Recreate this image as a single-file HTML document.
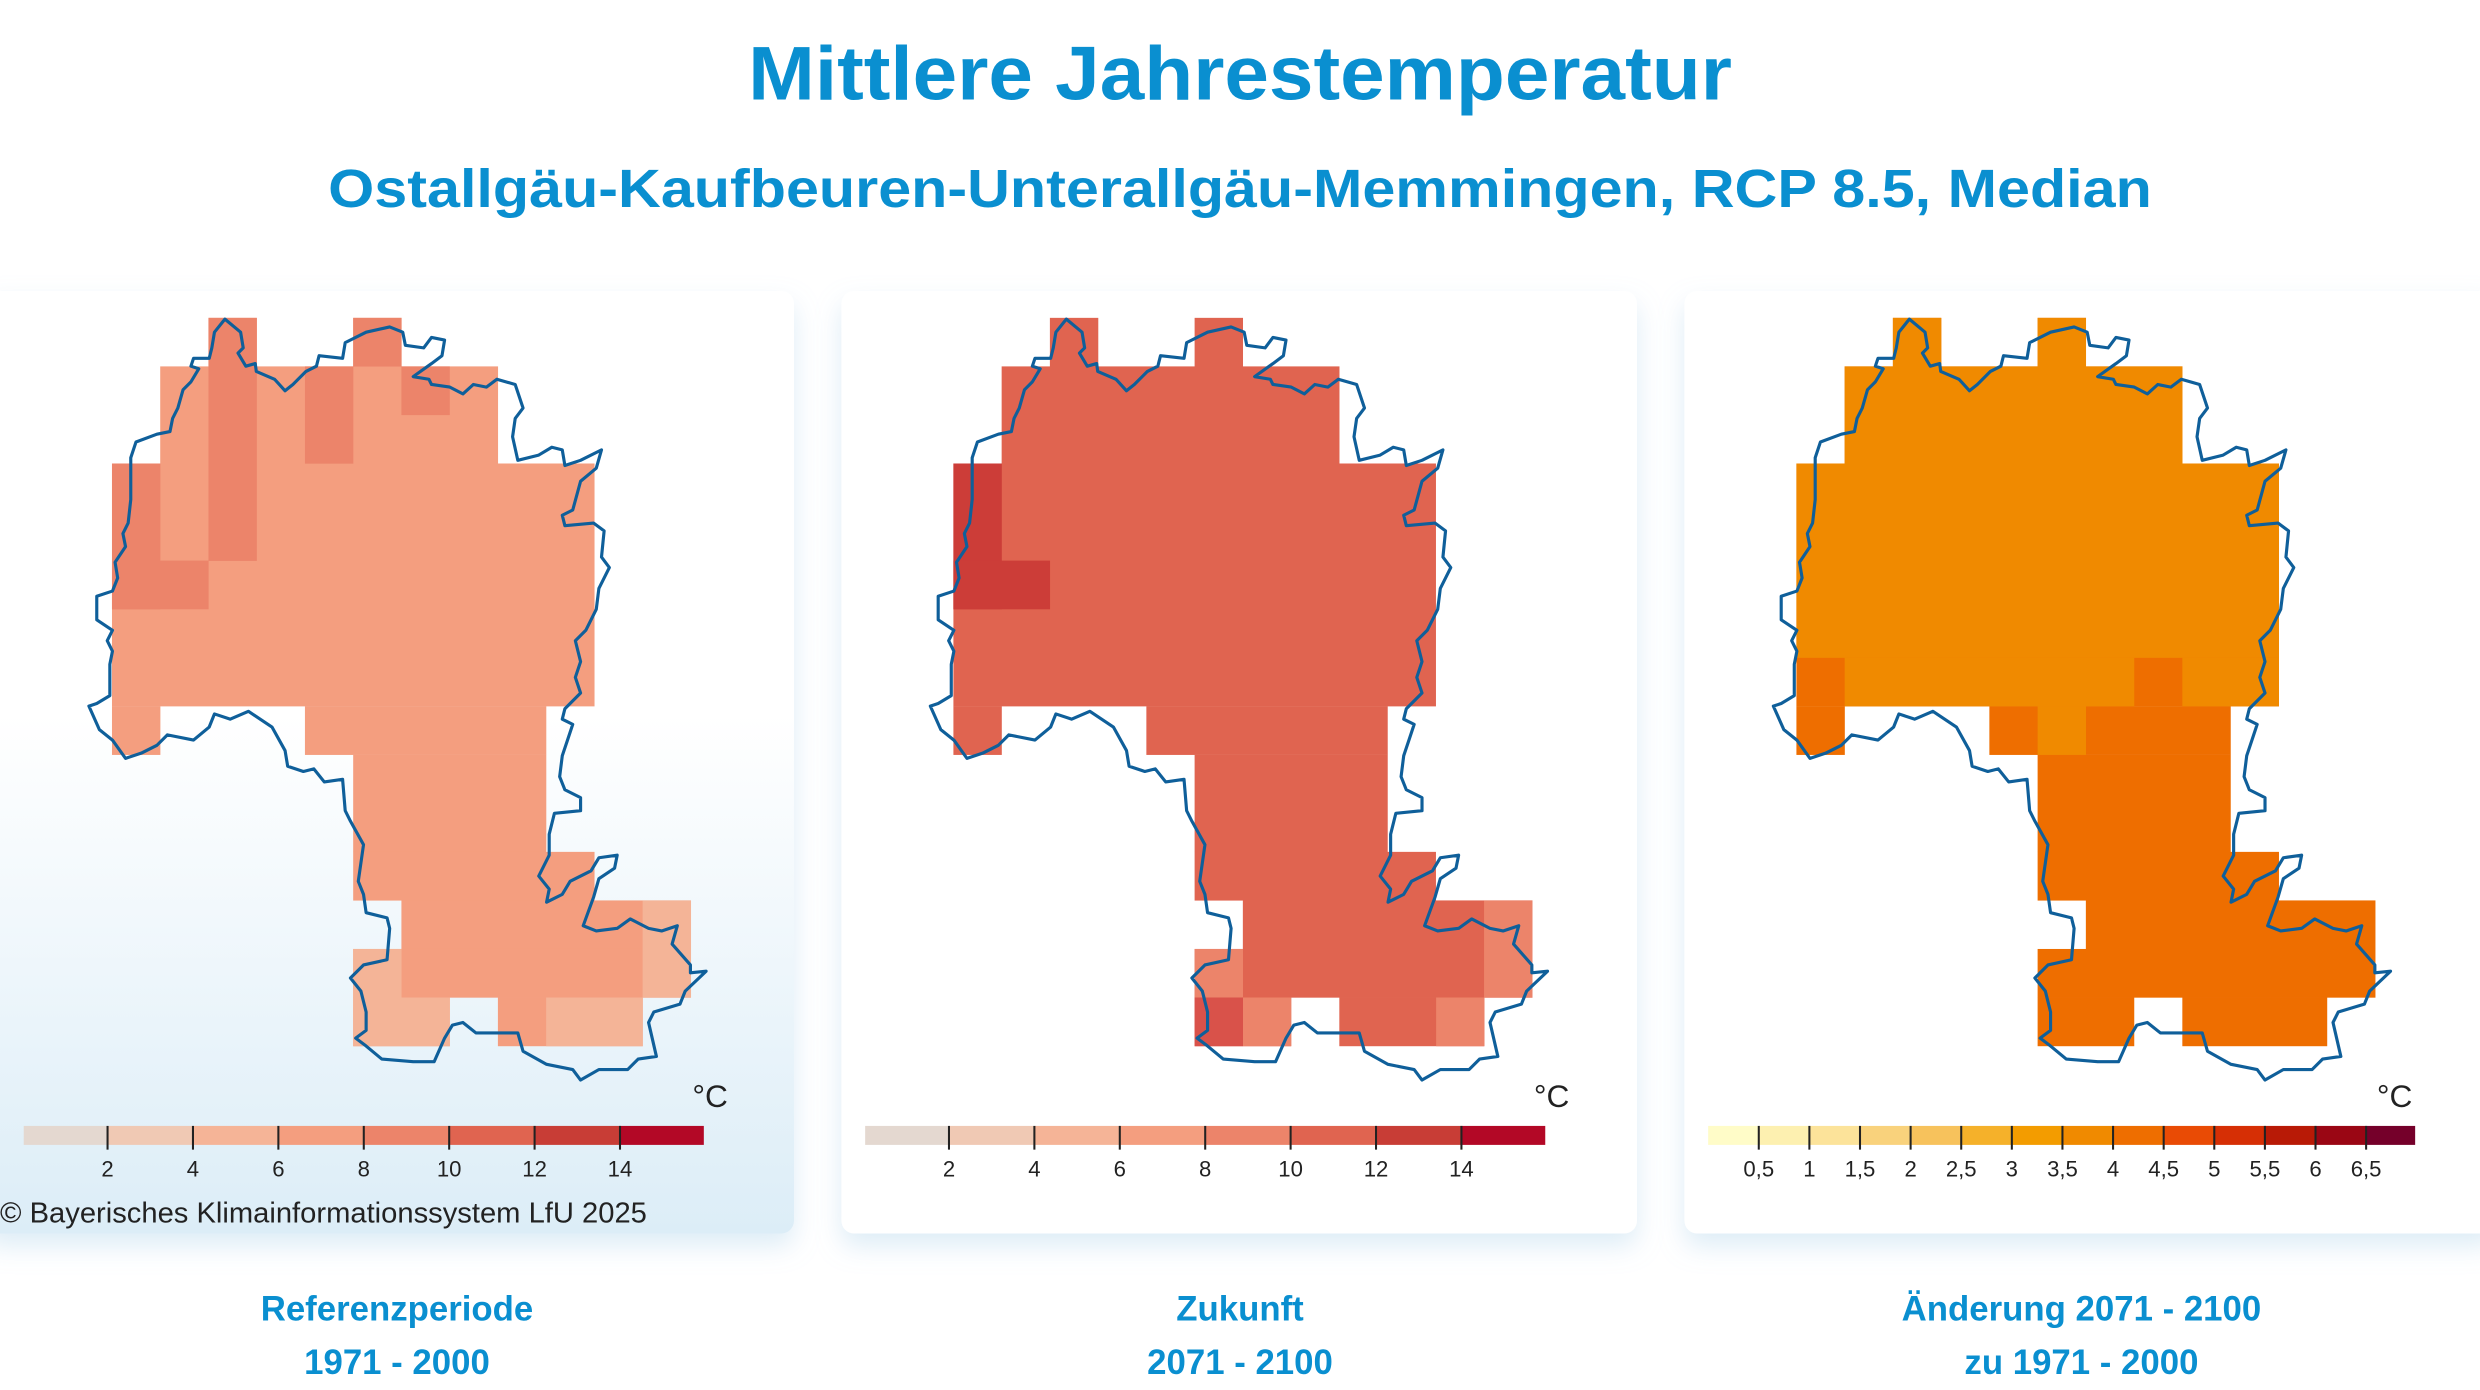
<!DOCTYPE html>
<html><head><meta charset="utf-8"><style>
html,body{margin:0;padding:0;background:#fff;}
svg{display:block;}
</style></head><body>
<svg width="2480" height="1390" viewBox="0 0 1568 879" preserveAspectRatio="none" xmlns="http://www.w3.org/2000/svg">
<defs>
<linearGradient id="bg1" x1="0" y1="0" x2="0" y2="1">
<stop offset="0" stop-color="#ffffff"/><stop offset="0.45" stop-color="#ffffff"/><stop offset="1" stop-color="#dcedf7"/>
</linearGradient>
<filter id="sh" x="-10%" y="-10%" width="120%" height="125%">
<feDropShadow dx="0" dy="8" stdDeviation="8" flood-color="#9fcbe6" flood-opacity="0.35"/>
</filter>
<path id="ol" fill="none" stroke="#0f5f9a" stroke-width="6" stroke-linejoin="round" d="M430,75 L460,100 465,130 455,140 470,165 488,160 490,175 525,190 545,212 560,200 585,175 605,165 610,145 655,150 660,120 700,100 745,90 770,100 775,125 810,130 825,110 850,115 845,145 825,160 790,185 820,190 825,200 860,205 885,218 905,200 930,205 950,190 985,200 1000,245 985,265 980,300 990,345 1030,335 1055,320 1075,325 1080,355 1110,345 1150,325 1140,360 1110,385 1095,440 1075,450 1080,470 1135,465 1155,480 1150,530 1165,550 1145,590 1140,630 1120,670 1100,690 1110,730 1100,760 1110,790 1080,820 1075,840 1095,850 1085,880 1075,910 1070,950 1080,975 1110,990 1110,1015 1060,1020 1050,1060 1050,1100 1030,1140 1050,1165 1045,1190 1075,1175 1090,1150 1130,1130 1145,1105 1180,1100 1175,1125 1145,1145 1135,1180 1115,1235 1140,1245 1180,1240 1205,1222 1240,1240 1265,1245 1295,1235 1285,1270 1320,1310 1320,1325 1350,1322 1310,1360 1300,1385 1250,1400 1240,1420 1255,1485 1220,1490 1200,1510 1145,1510 1110,1530 1095,1510 1045,1500 1000,1475 990,1440 910,1440 885,1420 865,1425 850,1450 830,1495 790,1495 730,1490 700,1465 680,1450 700,1435 700,1400 690,1360 670,1335 695,1310 740,1300 745,1240 740,1220 700,1210 695,1175 685,1150 695,1080 670,1035 660,1015 655,955 620,960 600,935 580,940 550,930 545,900 520,855 490,835 475,825 440,840 410,830 400,855 370,880 320,870 300,890 270,905 240,915 215,880 190,860 170,815 185,810 210,795 210,735 215,710 205,690 215,670 185,650 185,605 215,595 225,570 220,540 240,510 235,485 245,465 250,420 250,340 260,310 300,295 325,290 330,265 340,245 350,210 365,195 380,170 365,165 370,150 400,150 405,130 410,100 Z"/>
<g id="shape">
<rect x="131.8" y="201" width="30.6" height="30.8"/>
<rect x="223.3" y="201" width="30.6" height="30.8"/>
<rect x="101.3" y="231.7" width="213.6" height="61.5"/>
<rect x="70.8" y="293.1" width="305.1" height="153.6"/>
<rect x="70.8" y="446.6" width="30.6" height="30.8"/>
<rect x="192.8" y="446.6" width="152.6" height="30.8"/>
<rect x="223.3" y="477.3" width="122.1" height="61.5"/>
<rect x="223.3" y="538.7" width="152.6" height="30.8"/>
<rect x="253.8" y="569.4" width="183.1" height="30.8"/>
<rect x="223.3" y="600.1" width="213.6" height="30.8"/>
<rect x="223.3" y="630.8" width="61.1" height="30.8"/>
<rect x="314.8" y="630.8" width="91.6" height="30.8"/>
</g>
</defs>

<rect x="0" y="0" width="1568" height="879" fill="#fff"/>

<text x="784" y="63" text-anchor="middle" font-family="Liberation Sans, sans-serif" font-weight="bold" font-size="48" fill="#0a8fd0" textLength="622" lengthAdjust="spacingAndGlyphs">Mittlere Jahrestemperatur</text>
<text x="784" y="131" text-anchor="middle" font-family="Liberation Sans, sans-serif" font-weight="bold" font-size="34" fill="#0a8fd0" textLength="1153" lengthAdjust="spacingAndGlyphs">Ostallgäu-Kaufbeuren-Unterallgäu-Memmingen, RCP 8.5, Median</text>

<rect x="-10" y="184" width="512" height="596" rx="8" fill="url(#bg1)" filter="url(#sh)"/>
<rect x="532" y="184" width="503" height="596" rx="8" fill="#fff" filter="url(#sh)"/>
<rect x="1065" y="184" width="513" height="596" rx="8" fill="#fff" filter="url(#sh)"/>

<!-- Map 1 -->
<g>
<use href="#shape" fill="#f49e7f"/>
<g fill="#ec846a">
<rect x="131.8" y="201" width="30.6" height="153.7"/>
<rect x="223.3" y="201" width="30.6" height="30.8"/>
<rect x="192.8" y="231.7" width="30.6" height="61.5"/>
<rect x="253.8" y="231.7" width="30.6" height="30.8"/>
<rect x="70.8" y="293.1" width="30.6" height="92.2"/>
<rect x="70.8" y="354.5" width="61.1" height="30.8"/>
</g>
<g fill="#f4b497">
<rect x="406.3" y="569.4" width="30.6" height="61.5"/>
<rect x="223.3" y="600.1" width="30.6" height="30.8"/>
<rect x="223.3" y="630.8" width="61.1" height="30.8"/>
<rect x="345.3" y="630.8" width="61.1" height="30.8"/>
</g>
<g transform="translate(0,177) scale(0.3307)"><use href="#ol"/></g>
</g>

<!-- Map 2 -->
<g transform="translate(532,0)">
<use href="#shape" fill="#e06450"/>
<g fill="#cc3d38">
<rect x="70.8" y="293.1" width="30.6" height="92.2"/>
<rect x="70.8" y="354.5" width="61.1" height="30.8"/>
</g>
<g fill="#ec846a">
<rect x="406.3" y="569.4" width="30.6" height="61.5"/>
<rect x="223.3" y="600.1" width="30.6" height="30.8"/>
<rect x="253.8" y="630.8" width="30.6" height="30.8"/>
<rect x="376" y="630.8" width="30.6" height="30.8"/>
</g>
<rect x="223.3" y="630.8" width="30.6" height="30.8" fill="#d9524a"/>
<g transform="translate(0,177) scale(0.3307)"><use href="#ol"/></g>
</g>

<!-- Map 3 -->
<g transform="translate(1065,0)">
<use href="#shape" fill="#ee6e00"/>
<g fill="#f08a00">
<rect x="131.8" y="201" width="30.6" height="30.8"/>
<rect x="223.3" y="201" width="30.6" height="30.8"/>
<rect x="101.3" y="231.7" width="213.6" height="61.5"/>
<rect x="70.8" y="293.1" width="305.1" height="122.9"/>
<rect x="101.3" y="415.9" width="183.1" height="30.8"/>
<rect x="314.8" y="415.9" width="61.1" height="30.8"/>
<rect x="223.3" y="446.6" width="30.6" height="30.8"/>
</g>
<g transform="translate(0,177) scale(0.3307)"><use href="#ol"/></g>
</g>

<g id="leg1" font-family="Liberation Sans, sans-serif" font-size="14" fill="#222" text-anchor="middle">
<rect x="15" y="712" width="53" height="12" fill="#e4d8d0"/>
<rect x="68" y="712" width="54" height="12" fill="#f0c9b4"/>
<rect x="122" y="712" width="54" height="12" fill="#f5b497"/>
<rect x="176" y="712" width="54" height="12" fill="#f49e7f"/>
<rect x="230" y="712" width="54" height="12" fill="#ec846a"/>
<rect x="284" y="712" width="54" height="12" fill="#e06450"/>
<rect x="338" y="712" width="54" height="12" fill="#c83d36"/>
<rect x="392" y="712" width="53" height="12" fill="#b30826"/>
<g stroke="#222" stroke-width="1.3">
<line x1="68" y1="712" x2="68" y2="727"/><line x1="122" y1="712" x2="122" y2="727"/><line x1="176" y1="712" x2="176" y2="727"/><line x1="230" y1="712" x2="230" y2="727"/><line x1="284" y1="712" x2="284" y2="727"/><line x1="338" y1="712" x2="338" y2="727"/><line x1="392" y1="712" x2="392" y2="727"/>
</g>
<text x="68" y="744">2</text><text x="122" y="744">4</text><text x="176" y="744">6</text><text x="230" y="744">8</text><text x="284" y="744">10</text><text x="338" y="744">12</text><text x="392" y="744">14</text>
<text x="449" y="700" font-size="20">°C</text>
</g>
<use href="#leg1" transform="translate(532,0)"/>

<text x="0" y="773" font-family="Liberation Sans, sans-serif" font-size="18" fill="#222" textLength="409" lengthAdjust="spacingAndGlyphs">© Bayerisches Klimainformationssystem LfU 2025</text>

<g font-family="Liberation Sans, sans-serif" font-size="14" fill="#222" text-anchor="middle">
<rect x="1080" y="712" width="32" height="12" fill="#fffcc8"/>
<rect x="1112" y="712" width="32" height="12" fill="#fdf0b0"/>
<rect x="1144" y="712" width="32" height="12" fill="#fce39a"/>
<rect x="1176" y="712" width="32" height="12" fill="#f9d27c"/>
<rect x="1208" y="712" width="32" height="12" fill="#f7c25c"/>
<rect x="1240" y="712" width="32" height="12" fill="#f5b12a"/>
<rect x="1272" y="712" width="32" height="12" fill="#f39c00"/>
<rect x="1304" y="712" width="32" height="12" fill="#f08a00"/>
<rect x="1336" y="712" width="32" height="12" fill="#ee6e00"/>
<rect x="1368" y="712" width="32" height="12" fill="#e94b05"/>
<rect x="1400" y="712" width="32" height="12" fill="#d62f05"/>
<rect x="1432" y="712" width="32" height="12" fill="#b81a06"/>
<rect x="1464" y="712" width="32" height="12" fill="#9a0614"/>
<rect x="1496" y="712" width="31" height="12" fill="#75002a"/>
<g stroke="#222" stroke-width="1.3">
<line x1="1112" y1="712" x2="1112" y2="727"/><line x1="1144" y1="712" x2="1144" y2="727"/><line x1="1176" y1="712" x2="1176" y2="727"/><line x1="1208" y1="712" x2="1208" y2="727"/><line x1="1240" y1="712" x2="1240" y2="727"/><line x1="1272" y1="712" x2="1272" y2="727"/><line x1="1304" y1="712" x2="1304" y2="727"/><line x1="1336" y1="712" x2="1336" y2="727"/><line x1="1368" y1="712" x2="1368" y2="727"/><line x1="1400" y1="712" x2="1400" y2="727"/><line x1="1432" y1="712" x2="1432" y2="727"/><line x1="1464" y1="712" x2="1464" y2="727"/><line x1="1496" y1="712" x2="1496" y2="727"/>
</g>
<text x="1112" y="744">0,5</text><text x="1144" y="744">1</text><text x="1176" y="744">1,5</text><text x="1208" y="744">2</text><text x="1240" y="744">2,5</text><text x="1272" y="744">3</text><text x="1304" y="744">3,5</text><text x="1336" y="744">4</text><text x="1368" y="744">4,5</text><text x="1400" y="744">5</text><text x="1432" y="744">5,5</text><text x="1464" y="744">6</text><text x="1496" y="744">6,5</text>
<text x="1514" y="700" font-size="20">°C</text>
</g>

<g font-family="Liberation Sans, sans-serif" font-weight="bold" font-size="22" fill="#0a8fd0" text-anchor="middle">
<text x="251" y="835">Referenzperiode</text>
<text x="251" y="869">1971 - 2000</text>
<text x="784" y="835">Zukunft</text>
<text x="784" y="869">2071 - 2100</text>
<text x="1316" y="835">Änderung 2071 - 2100</text>
<text x="1316" y="869">zu 1971 - 2000</text>
</g>
</svg>
</body></html>
